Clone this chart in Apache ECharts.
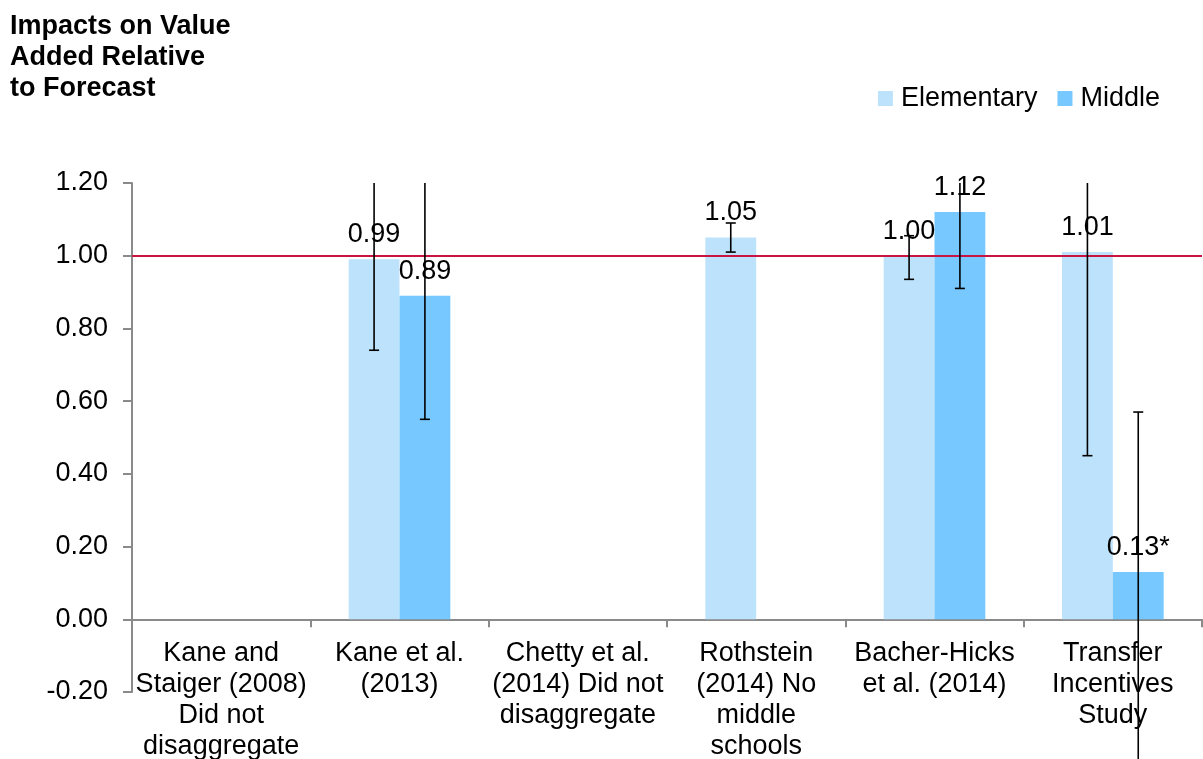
<!DOCTYPE html>
<html>
<head>
<meta charset="utf-8">
<title>Impacts on Value Added Relative to Forecast</title>
<script src="https://cdn.jsdelivr.net/npm/echarts@6/dist/echarts.min.js"></script>
<style>
  html, body { margin: 0; padding: 0; background: #ffffff; }
  #chart { width: 1203px; height: 759px; }
</style>
</head>
<body>
<div id="chart"></div>
<script>
// Studies compared on the x axis
const categories = [
  'Kane and\nStaiger (2008)\nDid not\ndisaggregate',
  'Kane et al.\n(2013)',
  'Chetty et al.\n(2014) Did not\ndisaggregate',
  'Rothstein\n(2014) No\nmiddle\nschools',
  'Bacher-Hicks\net al. (2014)',
  'Transfer\nIncentives\nStudy'
];

// Point estimates (null = no estimate reported)
const elementary = [null, 0.99, null, 1.05, 1.00, 1.01];
const middle     = [null, 0.89, null, null, 1.12, 0.13];

// Significance markers appended to the value labels
const elementaryMark = ['', '', '', '', '', ''];
const middleMark     = ['', '', '', '', '', '*'];

// Confidence interval ends
const elementaryLow  = [null, 0.74, null, 1.01, 0.935, 0.45];
const elementaryHigh = [null, 1.30, null, 1.09, 1.055, 1.30];
const middleLow      = [null, 0.55, null, null, 0.91, -0.45];
const middleHigh     = [null, 1.30, null, null, 1.25, 0.57];

// Reference line: estimate equals forecast
const forecastLine = 1.0;

// Value axis ticks
const yMin = -0.2, yMax = 1.2, yStep = 0.2;

const FONT = '"Liberation Sans", Arial, Helvetica, sans-serif';
const ELEM_COLOR = '#BDE3FC';
const MID_COLOR = '#76C8FE';
const CATEGORY_GAP = 0.43;

// Plot box
const CHART_H = 759;
const GRID_TOP = 183, GRID_BOTTOM = 67;
// Category axis sits on the zero line: shift it up from the grid bottom
const gridHeight = CHART_H - GRID_TOP - GRID_BOTTOM;
const zeroLift = gridHeight * (0 - yMin) / (yMax - yMin);

// Build error-bar records: [category, low, high, group(0 = elementary, 1 = middle)]
const errorData = [];
categories.forEach((c, i) => {
  if (elementaryLow[i] != null) errorData.push([i, elementaryLow[i], elementaryHigh[i], 0]);
  if (middleLow[i] != null) errorData.push([i, middleLow[i], middleHigh[i], 1]);
});

function renderError(params, api) {
  const cat = api.value(0);
  const low = api.value(1);
  const high = api.value(2);
  const group = api.value(3);
  const band = api.size([1, 0])[0];
  const barW = band * (1 - CATEGORY_GAP) / 2;
  const center = api.coord([cat, 0])[0];
  const x = center + (group === 0 ? -barW / 2 : barW / 2);
  const topLimit = api.coord([cat, yMax])[1];
  let yHigh = api.coord([cat, high])[1];
  const yLow = api.coord([cat, low])[1];
  const highCapped = high <= yMax;
  if (!highCapped) yHigh = topLimit;
  const cap = 5;
  const style = { stroke: '#000', lineWidth: 1.6 };
  const children = [
    { type: 'line', shape: { x1: x, y1: yHigh, x2: x, y2: yLow }, style }
  ];
  children.push({ type: 'line', shape: { x1: x - cap, y1: yLow, x2: x + cap, y2: yLow }, style });
  if (highCapped) {
    children.push({ type: 'line', shape: { x1: x - cap, y1: yHigh, x2: x + cap, y2: yHigh }, style });
  }
  return { type: 'group', children };
}

function labelFor(marks) {
  return function (p) {
    return p.value == null ? '' : p.value.toFixed(2) + marks[p.dataIndex];
  };
}

const chart = echarts.init(document.getElementById('chart'), null, { renderer: 'canvas' });

chart.setOption({
  animation: false,
  backgroundColor: '#ffffff',
  textStyle: { fontFamily: FONT },
  title: {
    text: 'Impacts on Value\nAdded Relative\nto Forecast',
    left: 5,
    top: 6,
    textStyle: {
      fontFamily: FONT, fontWeight: 'bold', fontSize: 27, lineHeight: 31, color: '#000'
    }
  },
  legend: {
    data: ['Elementary', 'Middle'],
    right: 38,
    top: 80,
    icon: 'rect',
    itemWidth: 15,
    itemHeight: 15,
    itemGap: 20,
    textStyle: { fontFamily: FONT, fontSize: 27, color: '#000', padding: [0, 0, 0, 3] }
  },
  grid: {
    left: 132, right: 1, top: GRID_TOP, bottom: GRID_BOTTOM,
    containLabel: false, outerBoundsMode: 'none'
  },
  xAxis: {
    type: 'category',
    data: categories,
    offset: -zeroLift,
    axisLine: { onZero: false, lineStyle: { color: '#8a8a8a', width: 2 } },
    axisTick: { show: true, length: 8, lineStyle: { color: '#8a8a8a', width: 2 } },
    axisLabel: {
      interval: 0, margin: 19,
      fontFamily: FONT, fontSize: 27, lineHeight: 31, color: '#000', align: 'center'
    },
    splitLine: { show: false }
  },
  yAxis: {
    type: 'value',
    min: yMin,
    max: yMax,
    interval: yStep,
    axisLine: { show: true, onZero: false, lineStyle: { color: '#8a8a8a', width: 2 } },
    axisTick: { show: true, inside: false, length: 9, lineStyle: { color: '#8a8a8a', width: 2 } },
    axisLabel: {
      margin: 24,
      fontFamily: FONT, fontSize: 27, color: '#000',
      formatter: v => v.toFixed(2)
    },
    splitLine: { show: false }
  },
  series: [
    {
      name: 'Elementary',
      type: 'bar',
      data: elementary,
      barGap: '0%',
      barCategoryGap: (CATEGORY_GAP * 100) + '%',
      itemStyle: { color: ELEM_COLOR },
      label: {
        show: true, position: 'top', distance: 11,
        fontFamily: FONT, fontSize: 27, color: '#000',
        formatter: labelFor(elementaryMark)
      },
      markLine: {
        silent: true,
        symbol: ['none', 'none'],
        label: { show: false },
        lineStyle: { color: '#C8143F', width: 2, type: 'solid' },
        data: [{ yAxis: forecastLine }]
      },
      z: 2
    },
    {
      name: 'Middle',
      type: 'bar',
      data: middle,
      barGap: '0%',
      barCategoryGap: (CATEGORY_GAP * 100) + '%',
      itemStyle: { color: MID_COLOR },
      label: {
        show: true, position: 'top', distance: 11,
        fontFamily: FONT, fontSize: 27, color: '#000',
        formatter: labelFor(middleMark)
      },
      z: 2
    },
    {
      name: 'Interval',
      type: 'custom',
      renderItem: renderError,
      data: errorData,
      encode: { x: 0, y: [1, 2] },
      clip: false,
      silent: true,
      z: 5
    }
  ]
});
</script>
</body>
</html>
